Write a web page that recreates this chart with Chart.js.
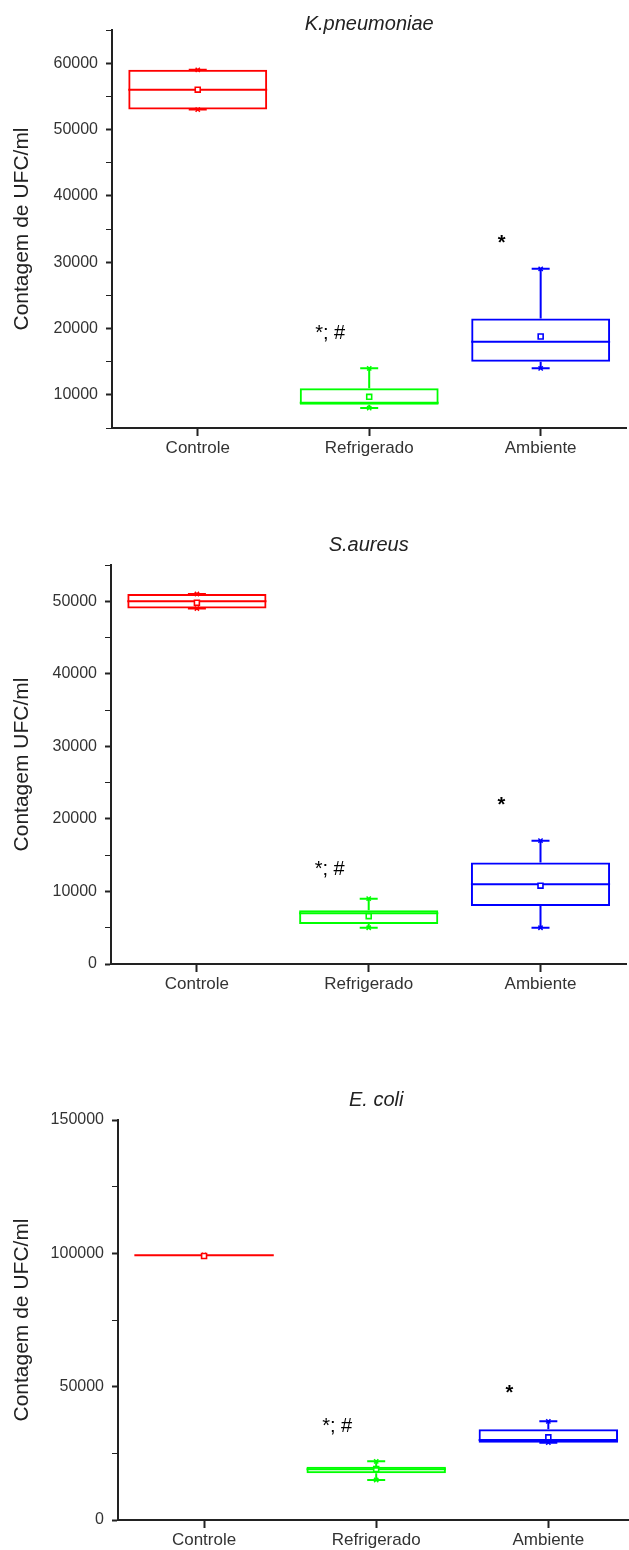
<!DOCTYPE html>
<html>
<head>
<meta charset="utf-8">
<title>Contagem de UFC/ml</title>
<script src="https://cdn.jsdelivr.net/npm/chart.js@4.4.1/dist/chart.umd.min.js"></script>
<style>
  html, body { margin: 0; padding: 0; background: #fff; overflow: hidden; }
  #page { position: relative; width: 629px; height: 1550px; overflow: hidden; }
  canvas { position: absolute; left: 0; }
</style>
</head>
<body>
<div id="page">
  <canvas id="kpChart" width="632" height="470" style="top:0"></canvas>
  <canvas id="saChart" width="632" height="479" style="top:521px"></canvas>
  <canvas id="ecChart" width="640" height="480" style="top:1070px"></canvas>
</div>
<script>
// Groups on the x axis (same for all three charts)
const categories = ['Controle', 'Refrigerado', 'Ambiente'];
const groupColors = ['rgb(255, 0, 0)', 'rgb(0, 255, 0)', 'rgb(0, 0, 255)'];

// K. pneumoniae
const kpMin = [53000, 8000, 14000];
const kpQ1 = [53000, 8500, 15000];
const kpMedian = [56000, 8800, 18000];
const kpQ3 = [59000, 11000, 21500];
const kpMax = [59000, 14000, 29000];
const kpMean = [56000, 9700, 18800];
const kpMarks = ['', '*; #', '*'];
const kpMarkY = [null, 18400, 32000];
const kpTicks = [10000, 20000, 30000, 40000, 50000, 60000];

// S. aureus
const saMin = [49000, 5000, 5000];
const saQ1 = [49000, 5500, 8000];
const saMedian = [50000, 7000, 11000];
const saQ3 = [51000, 7400, 14000];
const saMax = [51000, 9000, 17000];
const saMean = [49800, 6600, 10800];
const saMarks = ['', '*; #', '*'];
const saMarkY = [null, 12300, 21100];
const saTicks = [0, 10000, 20000, 30000, 40000, 50000];

// E. coli
const ecMin = [99300, 15000, 29000];
const ecQ1 = [99300, 17500, 29000];
const ecMedian = [99300, 19000, 30000];
const ecQ3 = [99300, 20000, 34000];
const ecMax = [99300, 22000, 37000];
const ecMean = [99000, 19100, 31000];
const ecMarks = ['', '*; #', '*'];
const ecMarkY = [null, 33000, 45300];
const ecTicks = [0, 50000, 100000, 150000];

const FONT = "'Liberation Sans', Arial, sans-serif";

// Box plot: floating bars for the boxes, points for mean/min/max,
// and a small plugin for whiskers, caps, medians and the significance marks
function boxChart(id, s) {
    const whiskers = {
        id: 'whiskers',
        beforeDatasetsDraw(chart) {
            const ctx = chart.ctx;
            const xs = chart.scales.x;
            const ys = chart.scales.y;
            const bars = chart.getDatasetMeta(0).data;
            ctx.save();
            ctx.lineWidth = 2;
            categories.forEach((c, i) => {
                const x = xs.getPixelForValue(i);
                const half = bars[i].width / 2;
                ctx.strokeStyle = groupColors[i];
                ctx.beginPath();
                ctx.moveTo(x, ys.getPixelForValue(s.q3[i]));
                ctx.lineTo(x, ys.getPixelForValue(s.max[i]));
                ctx.moveTo(x, ys.getPixelForValue(s.q1[i]));
                ctx.lineTo(x, ys.getPixelForValue(s.min[i]));
                [s.min[i], s.max[i]].forEach(v => {
                    const y = ys.getPixelForValue(v);
                    ctx.moveTo(x - 9, y);
                    ctx.lineTo(x + 9, y);
                });
                const ym = ys.getPixelForValue(s.median[i]);
                ctx.moveTo(x - half, ym);
                ctx.lineTo(x + half, ym);
                ctx.stroke();
            });
            ctx.restore();
        },
        afterDatasetsDraw(chart) {
            const ctx = chart.ctx;
            ctx.save();
            ctx.fillStyle = '#000';
            ctx.textAlign = 'center';
            ctx.textBaseline = 'alphabetic';
            s.marks.forEach((m, i) => {
                if (!m) return;
                const x = chart.scales.x.getPixelForValue(i) - 39;
                const y = chart.scales.y.getPixelForValue(s.markY[i]);
                ctx.font = (m === '*' ? 'bold ' : '') + '20px ' + FONT;
                ctx.fillText(m, x, y);
            });
            ctx.restore();
        }
    };

    return new Chart(document.getElementById(id), {
        type: 'bar',
        data: {
            labels: categories,
            datasets: [
                {
                    label: 'box',
                    data: s.q1.map((q, i) => [q, s.q3[i]]),
                    backgroundColor: 'rgba(0, 0, 0, 0)',
                    borderColor: groupColors,
                    borderWidth: 2,
                    borderSkipped: false,
                    barPercentage: 0.81,
                    categoryPercentage: 1
                },
                {
                    type: 'line', label: 'mean', data: s.mean, showLine: false,
                    pointStyle: 'rect', pointRadius: 3.5, pointBorderWidth: 1.6,
                    pointBackgroundColor: '#fff', pointBorderColor: groupColors
                },
                {
                    type: 'line', label: 'max', data: s.max, showLine: false,
                    pointStyle: 'crossRot', pointRadius: 3, pointBorderWidth: 1.5,
                    pointBorderColor: groupColors
                },
                {
                    type: 'line', label: 'min', data: s.min, showLine: false,
                    pointStyle: 'crossRot', pointRadius: 3, pointBorderWidth: 1.5,
                    pointBorderColor: groupColors
                }
            ]
        },
        options: {
            responsive: false,
            animation: false,
            events: [],
            plugins: {
                legend: { display: false },
                tooltip: { enabled: false },
                title: {
                    display: true,
                    fullSize: false,
                    text: s.title,
                    color: '#222',
                    font: { family: FONT, size: 20, style: 'italic', weight: 'normal', lineHeight: 1 },
                    padding: s.titlePadding
                }
            },
            scales: {
                x: {
                    offset: true,
                    grid: {
                        display: true, drawOnChartArea: false, offset: false,
                        tickLength: 8, tickColor: '#222', tickWidth: 2
                    },
                    border: { color: '#222', width: 2 },
                    ticks: { color: '#333', font: { family: FONT, size: 17 }, padding: 2 },
                    afterFit: (sc) => { sc.height = s.xHeight; }
                },
                y: {
                    min: s.yMin,
                    max: s.yMax,
                    grid: {
                        drawOnChartArea: false, tickLength: 6, tickColor: '#222',
                        tickWidth: (c) => (c.tick && s.ticks.includes(c.tick.value)) ? 2 : 1
                    },
                    border: { color: '#222', width: 2 },
                    ticks: {
                        stepSize: s.step,
                        autoSkip: false,
                        color: '#333',
                        padding: 8,
                        font: { family: FONT, size: 16 },
                        callback: (v) => s.ticks.includes(v) ? String(v) : ''
                    },
                    title: {
                        display: true,
                        text: s.yTitle,
                        color: '#222',
                        font: { family: FONT, size: 21 },
                        padding: { top: 10, bottom: 0 }
                    },
                    afterFit: (sc) => { sc.width = s.yWidth; }
                }
            }
        },
        plugins: [whiskers]
    });
}

boxChart('kpChart', {
    title: 'K.pneumoniae', yTitle: 'Contagem de UFC/ml',
    min: kpMin, q1: kpQ1, median: kpMedian, q3: kpQ3, max: kpMax, mean: kpMean,
    marks: kpMarks, markY: kpMarkY, ticks: kpTicks,
    yMin: 5000, yMax: 65000, step: 5000,
    yWidth: 112, xHeight: 42, titlePadding: { top: 14, bottom: -4 }
});

boxChart('saChart', {
    title: 'S.aureus', yTitle: 'Contagem UFC/ml',
    min: saMin, q1: saQ1, median: saMedian, q3: saQ3, max: saMax, mean: saMean,
    marks: saMarks, markY: saMarkY, ticks: saTicks,
    yMin: 0, yMax: 55000, step: 5000,
    yWidth: 111, xHeight: 36, titlePadding: { top: 14, bottom: 10 }
});

boxChart('ecChart', {
    title: 'E. coli', yTitle: 'Contagem de UFC/ml',
    min: ecMin, q1: ecQ1, median: ecMedian, q3: ecQ3, max: ecMax, mean: ecMean,
    marks: ecMarks, markY: ecMarkY, ticks: ecTicks,
    yMin: 0, yMax: 150000, step: 25000,
    yWidth: 118, xHeight: 30, titlePadding: { top: 20, bottom: 10 }
});
</script>
</body>
</html>
